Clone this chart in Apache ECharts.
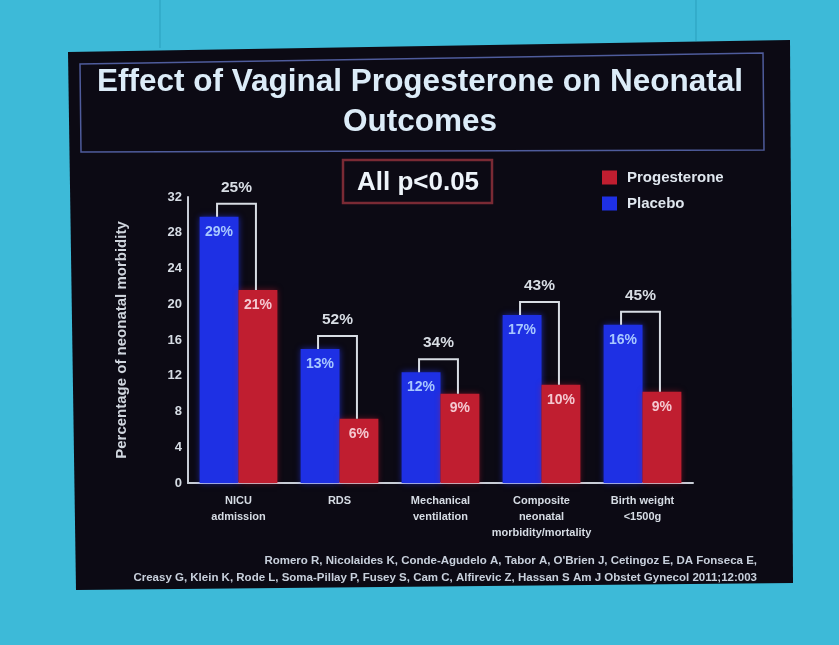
<!DOCTYPE html>
<html><head><meta charset="utf-8">
<script src="https://cdn.jsdelivr.net/npm/echarts@6/dist/echarts.min.js"></script>
<style>html,body{margin:0;padding:0;background:#3dbad8;}#c{width:839px;height:645px;}</style>
</head><body><div id="c"></div>
<script>
const categories = ['NICU\nadmission', 'RDS', 'Mechanical\nventilation', 'Composite\nneonatal\nmorbidity/mortality', 'Birth weight\n<1500g'];
const placebo = [29.8, 15.0, 12.4, 18.8, 17.7];
const progesterone = [21.6, 7.2, 10.0, 11.0, 10.2];
const placeboLabels = ['29%', '13%', '12%', '17%', '16%'];
const progLabels = ['21%', '6%', '9%', '10%', '9%'];
const reductions = ['25%', '52%', '34%', '43%', '45%'];
const yTicks = [0, 4, 8, 12, 16, 20, 24, 28, 32];

const CAT_GAP = 0.23;
const FONT = '"Liberation Sans", Arial, sans-serif';
const chart = echarts.init(document.getElementById('c'));

const bracketData = categories.map((c, i) => [i, placebo[i], progesterone[i]]);

chart.setOption({
  backgroundColor: '#3dbad8',
  animation: false,
  graphic: [
    {type: 'polygon', z: -10, shape: {points: [[68, 52], [790, 40], [793, 583], [76, 590]]}, style: {fill: '#0c0a14'}},
    {type: 'line', z: -9, shape: {x1: 160, y1: 0, x2: 160, y2: 48}, style: {stroke: '#2a9fbd', lineWidth: 1}},
    {type: 'line', z: -9, shape: {x1: 696, y1: 0, x2: 696, y2: 41}, style: {stroke: '#2a9fbd', lineWidth: 1}},
    {type: 'polygon', z: -8, shape: {points: [[80, 64], [763, 53], [764, 150], [81, 152]]}, style: {fill: 'none', stroke: '#4f5c9c', lineWidth: 1.5}},
    {type: 'text', z: 5, x: 420, y: 62, style: {text: 'Effect of Vaginal Progesterone on Neonatal\nOutcomes', fill: '#dcecf8', font: 'bold 31.5px ' + FONT, align: 'center', verticalAlign: 'top', lineHeight: 40}},
    {type: 'rect', z: 5, shape: {x: 343, y: 160, width: 149, height: 43}, style: {fill: '#0c0a14', stroke: '#7a2a34', lineWidth: 2.5}},
    {type: 'text', z: 6, x: 418, y: 183, style: {text: 'All p<0.05', fill: '#eef4fa', font: 'bold 26px ' + FONT, align: 'center', verticalAlign: 'middle'}},
    {type: 'text', z: 5, x: 757, y: 561, style: {text: "Romero R, Nicolaides K, Conde-Agudelo A, Tabor A, O'Brien J, Cetingoz E, DA Fonseca E,", fill: '#c8d0dc', font: 'bold 11.5px ' + FONT, align: 'right', verticalAlign: 'middle'}},
    {type: 'text', z: 5, x: 757, y: 578, style: {text: 'Creasy G, Klein K, Rode L, Soma-Pillay P, Fusey S, Cam C, Alfirevic Z, Hassan S Am J Obstet Gynecol 2011;12:003', fill: '#c8d0dc', font: 'bold 11.5px ' + FONT, align: 'right', verticalAlign: 'middle'}}
  ],
  legend: {
    data: ['Progesterone', 'Placebo'],
    orient: 'vertical', left: 597, top: 165, itemGap: 11,
    itemWidth: 15, itemHeight: 14,
    textStyle: {color: '#dfe6ee', fontWeight: 'bold', fontSize: 15, fontFamily: FONT, padding: [0, 0, 0, 5]},
    icon: 'rect'
  },
  grid: {left: 188, right: 146, top: 197, bottom: 162},
  xAxis: {
    type: 'category', data: categories,
    axisLine: {lineStyle: {color: '#c8cdd6', width: 2}},
    axisTick: {show: false},
    axisLabel: {color: '#d6dce4', fontWeight: 'bold', fontSize: 11, fontFamily: FONT, lineHeight: 16, margin: 10, interval: 0}
  },
  yAxis: {
    type: 'value', min: 0, max: 32, interval: 4,
    name: 'Percentage of neonatal morbidity', nameLocation: 'middle', nameGap: 59,
    nameTextStyle: {color: '#d0d6de', fontWeight: 'bold', fontSize: 15, fontFamily: FONT},
    axisLine: {show: true, lineStyle: {color: '#c8cdd6', width: 2}},
    axisTick: {show: false},
    splitLine: {show: false},
    axisLabel: {color: '#d6dce4', fontWeight: 'bold', fontSize: 13, fontFamily: FONT, margin: 6,
      formatter: v => yTicks.includes(v) ? String(v) : ''}
  },
  series: [
    {
      name: 'Placebo', type: 'bar', data: placebo, barGap: '0%', barCategoryGap: (CAT_GAP * 100) + '%',
      itemStyle: {color: '#1e30e4', shadowColor: 'rgba(40,60,255,0.6)', shadowBlur: 6},
      label: {show: true, position: 'insideTop', distance: 8, formatter: p => placeboLabels[p.dataIndex],
        color: '#a8c8ff', fontWeight: 'bold', fontSize: 14, fontFamily: FONT}
    },
    {
      name: 'Progesterone', type: 'bar', data: progesterone,
      itemStyle: {color: '#c01e30', shadowColor: 'rgba(200,30,50,0.5)', shadowBlur: 6},
      label: {show: true, position: 'insideTop', distance: 8, formatter: p => progLabels[p.dataIndex],
        color: '#f4c8d0', fontWeight: 'bold', fontSize: 14, fontFamily: FONT}
    },
    {
      type: 'custom', data: bracketData, z: 10, silent: true,
      renderItem: function (params, api) {
        const i = api.value(0);
        const c0 = api.coord([i, 0]);
        const band = api.size([1, 0])[0];
        const bw = band * (1 - CAT_GAP) / 2;
        const xL = c0[0] - bw / 2 - 2;
        const xR = c0[0] + bw / 2 - 2;
        const yP = api.coord([i, api.value(1)])[1];
        const yQ = api.coord([i, api.value(2)])[1];
        const yTop = yP - 13;
        return {
          type: 'group',
          children: [
            {type: 'polyline', shape: {points: [[xL, yP], [xL, yTop], [xR, yTop], [xR, yQ]]},
              style: {stroke: '#d8dde4', lineWidth: 2, fill: 'none'}},
            {type: 'text', style: {x: (xL + xR) / 2, y: yTop - 16, text: reductions[params.dataIndex],
              fill: '#d8dde4', font: 'bold 15.5px ' + FONT, align: 'center', verticalAlign: 'middle'}}
          ]
        };
      }
    }
  ]
});
</script>
</body></html>
